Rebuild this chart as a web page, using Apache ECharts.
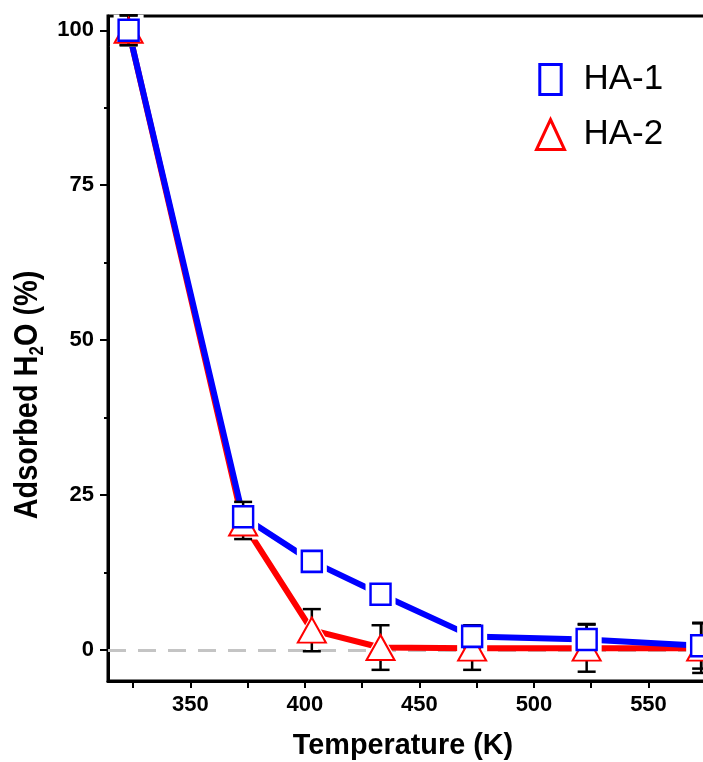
<!DOCTYPE html>
<html>
<head>
<meta charset="utf-8">
<script src="https://cdn.jsdelivr.net/npm/echarts@6/dist/echarts.min.js"></script>
<style>
  html, body { margin: 0; padding: 0; background: #fff; }
  #chart { width: 703px; height: 762px; }
</style>
</head>
<body>
<div id="chart"></div>
<script>
// values
const temps = [323, 373, 403, 433, 473, 523, 573];
const ha1 = [100, 21.5, 14.3, 9.0, 2.2, 1.7, 0.7];
const ha1Err = [2.4, 2.4, 1.0, 1.0, 1.8, 2.5, 3.7];
const ha2 = [100, 20.5, 3.2, 0.4, 0.3, 0.3, 0.3];
const ha2Err = [2.4, 2.6, 3.4, 3.6, 3.5, 3.8, 4.0];
const xLabels = [350, 400, 450, 500, 550];
const xTicks = [325, 350, 375, 400, 425, 450, 475, 500, 525, 550, 575];
const yLabels = [0, 25, 50, 75, 100];
const yMinorTicks = [12.5, 37.5, 62.5, 87.5];

const font = 'Arial, "Liberation Sans", sans-serif';
const blue = "#0000ff";
const red = "#ff0000";

const pairs = (vals) => temps.map((t, i) => [t, vals[i]]);
const errRows = (vals, errs) => temps.map((t, i) => [t, vals[i] - errs[i], vals[i] + errs[i]]);

const chart = echarts.init(document.getElementById("chart"));

const option = {
  animation: false,
  backgroundColor: "#fff",
  grid: {
    left: 108,
    width: 655, // runs past the right edge, the picture is cut there
    top: 16,
    bottom: 81,
    outerBoundsMode: "none",
    containLabel: false,
    show: true,
    borderColor: "#000",
    borderWidth: 3,
    backgroundColor: "transparent"
  },
  xAxis: {
    type: "value",
    min: 314,
    max: 600,
    axisLine: { onZero: false, lineStyle: { color: "#000", width: 3 } },
    axisTick: { customValues: xTicks, length: 7, lineStyle: { color: "#000", width: 2 } },
    axisLabel: {
      customValues: xLabels,
      margin: 13,
      color: "#000",
      fontFamily: font,
      fontWeight: "bold",
      fontSize: 22
    },
    splitLine: { show: false }
  },
  yAxis: [
    {
      type: "value",
      min: -5,
      max: 102.3,
      axisLine: { show: true, onZero: false, lineStyle: { color: "#000", width: 3 } },
      axisTick: { show: true, customValues: yLabels, length: 8, lineStyle: { color: "#000", width: 2 } },
      axisLabel: {
        customValues: yLabels,
        margin: 14,
        color: "#000",
        fontFamily: font,
        fontWeight: "bold",
        fontSize: 22
      },
      splitLine: { show: false }
    },
    {
      type: "value",
      position: "left",
      min: -5,
      max: 102.3,
      axisLine: { show: false, onZero: false },
      axisTick: { show: true, customValues: yMinorTicks, length: 4, lineStyle: { color: "#000", width: 2 } },
      axisLabel: { show: false },
      splitLine: { show: false }
    }
  ],
  legend: {
    orient: "vertical",
    left: 530,
    top: 57,
    itemWidth: 28,
    itemHeight: 30,
    itemGap: 20,
    selectedMode: false,
    textStyle: {
      fontFamily: font,
      fontSize: 35,
      lineHeight: 35,
      color: "#000",
      padding: [0, 0, 0, 14]
    },
    data: [
      {
        name: "HA-1",
        icon: "path://M0,0H20V28H0Z",
        itemStyle: { color: "#fff", borderColor: blue, borderWidth: 3 }
      },
      {
        name: "HA-2",
        icon: "triangle",
        itemStyle: { color: "#fff", borderColor: red, borderWidth: 3 }
      }
    ]
  },
  graphic: [
    {
      type: "text",
      x: 403,
      y: 746,
      scaleX: 0.96,
      style: {
        text: "Temperature (K)",
        font: "bold 30px " + font,
        fill: "#000",
        align: "center",
        verticalAlign: "middle"
      }
    },
    {
      type: "text",
      x: 28,
      y: 395,
      rotation: Math.PI / 2,
      scaleX: 0.85,
      style: {
        text: "{a|Adsorbed H}{s|2}{a|O (%)}",
        align: "center",
        verticalAlign: "middle",
        rich: {
          a: { font: "bold 34px " + font, fill: "#000" },
          s: { font: "bold 20px " + font, fill: "#000", padding: [18, 0, 0, 0] }
        }
      }
    }
  ],
  series: [
    {
      name: "HA-2",
      type: "line",
      data: pairs(ha2),
      showSymbol: false,
      z: 2,
      lineStyle: { color: red, width: 6 },
      itemStyle: { color: red },
      markLine: {
        z: 1,
        silent: true,
        symbol: ["none", "none"],
        label: { show: false },
        lineStyle: { color: "#c4c4c4", type: [18, 12], width: 3 },
        data: [{ yAxis: 0 }]
      }
    },
    {
      name: "HA-1",
      type: "line",
      data: pairs(ha1),
      showSymbol: false,
      z: 2,
      lineStyle: { color: blue, width: 6 },
      itemStyle: { color: blue }
    },
    {
      // white halo that opens the small gaps around each marker
      type: "scatter",
      data: pairs(ha2),
      symbol: "triangle",
      symbolSize: [38, 33],
      silent: true,
      z: 3,
      itemStyle: { color: "#fff", opacity: 1 }
    },
    {
      type: "scatter",
      data: pairs(ha1),
      symbol: "rect",
      symbolSize: [30, 31],
      silent: true,
      z: 3,
      itemStyle: { color: "#fff", opacity: 1 }
    },
    {
      type: "custom",
      data: errRows(ha1, ha1Err).concat(errRows(ha2, ha2Err)),
      z: 4,
      silent: true,
      encode: { x: 0, y: [1, 2] },
      renderItem: (params, api) => {
        const x = api.value(0);
        const lo = api.coord([x, api.value(1)]);
        const hi = api.coord([x, api.value(2)]);
        const w = 9;
        const style = { stroke: "#000", lineWidth: 2.5 };
        return {
          type: "group",
          children: [
            { type: "line", shape: { x1: lo[0], y1: lo[1], x2: hi[0], y2: hi[1] }, style },
            { type: "line", shape: { x1: hi[0] - w, y1: hi[1], x2: hi[0] + w, y2: hi[1] }, style },
            { type: "line", shape: { x1: lo[0] - w, y1: lo[1], x2: lo[0] + w, y2: lo[1] }, style }
          ]
        };
      }
    },
    {
      name: "HA-2",
      type: "scatter",
      data: pairs(ha2),
      symbol: "triangle",
      symbolSize: [28, 25],
      z: 5,
      itemStyle: { color: "#fff", borderColor: red, borderWidth: 2, opacity: 1 }
    },
    {
      name: "HA-1",
      type: "scatter",
      data: pairs(ha1),
      symbol: "rect",
      symbolSize: [20, 21],
      z: 5,
      itemStyle: { color: "#fff", borderColor: blue, borderWidth: 2.5, opacity: 1 }
    }
  ]
};

chart.setOption(option);
</script>
</body>
</html>
